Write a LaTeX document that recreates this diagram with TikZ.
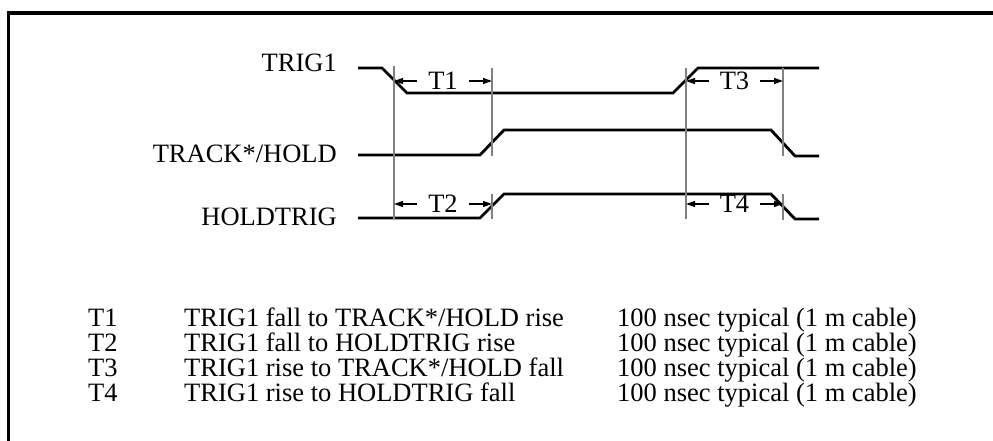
\documentclass[tikz,border=0pt]{standalone}
\usepackage{fontspec}
\setmainfont{Liberation Serif}
\usetikzlibrary{arrows.meta,positioning,calc}

\tikzset{
  wave/.style={line width=2.8pt, line join=miter},
  guide/.style={line width=1.4pt, draw=black!50},
  dim/.style={line width=1.2pt, -{Triangle[length=9pt,width=6pt]}},
  lbl/.style={inner sep=0pt, font=\fontsize{26.5}{30}\selectfont},
}

\begin{document}
\begin{tikzpicture}[x=1pt,y=-1pt]
    \useasboundingbox (0,0) rectangle (993,441);
    % frame
    \draw[line width=3.3pt] (8.5,460) -- (8.5,13) -- (1010,13);

    % signal names
    \node[lbl, anchor=base east] (trig) at (337,72) {TRIG1};
    \node[lbl, anchor=base east] (track) at (337,163) {TRACK*/HOLD};
    \node[lbl, anchor=base east] (hold) at (337,225) {HOLDTRIG};

    % waveforms
    \draw[wave] (358,68) -- (382,68) -- (407,93) -- (673,93) -- (698,68) -- (819,68);
    \draw[wave] (358,155) -- (480,155) -- (504,130) -- (771,130) -- (795,156) -- (819,156);
    \draw[wave] (358,218) -- (480,218) -- (504,194) -- (771,194) -- (795,219) -- (819,219);

    % guide lines
    \coordinate (ga) at (394,66);
    \coordinate (gb) at (492,68);
    \coordinate (gc) at (686,68);
    \coordinate (gd) at (783,68);
    \draw[guide] (ga) -- (394,219);
    \draw[guide] (gb) -- (492,156);
    \draw[guide] (492,194) -- (492,219);
    \draw[guide] (gc) -- (686,219);
    \draw[guide] (gd) -- (783,156);
    \draw[guide] (783,194) -- (783,220);

    % timing marks
    \node[lbl, inner xsep=11pt] (t1) at (443,81) {T1};
    \node[lbl, inner xsep=11pt] (t2) at (443,204) {T2};
    \node[lbl, inner xsep=11pt] (t3) at (734.5,81) {T3};
    \node[lbl, inner xsep=11pt] (t4) at (734.5,204) {T4};
    \draw[dim] (t1.west) -- (t1.west -| ga);
    \draw[dim] (t1.east) -- (t1.east -| gb);
    \draw[dim] (t2.west) -- (t2.west -| ga);
    \draw[dim] (t2.east) -- (t2.east -| gb);
    \draw[dim] (t3.west) -- (t3.west -| gc);
    \draw[dim] (t3.east) -- (t3.east -| gd);
    \draw[dim] (t4.west) -- (t4.west -| gc);
    \draw[dim] (t4.east) -- (t4.east -| gd);

    % table
    \node[lbl, anchor=base west] (r1a) at (88,326) {T1};
    \node[lbl, anchor=base west] (r1b) at (184,326) {TRIG1 fall to TRACK*/HOLD rise};
    \node[lbl, anchor=base west] (r1c) at (617,326) {100 nsec typical (1 m cable)};
    \node[lbl, anchor=base west] (r2a) at (88,351) {T2};
    \node[lbl, anchor=base west] (r2b) at (184,351) {TRIG1 fall to HOLDTRIG rise};
    \node[lbl, anchor=base west] (r2c) at (617,351) {100 nsec typical (1 m cable)};
    \node[lbl, anchor=base west] (r3a) at (88,376) {T3};
    \node[lbl, anchor=base west] (r3b) at (184,376) {TRIG1 rise to TRACK*/HOLD fall};
    \node[lbl, anchor=base west] (r3c) at (617,376) {100 nsec typical (1 m cable)};
    \node[lbl, anchor=base west] (r4a) at (88,401) {T4};
    \node[lbl, anchor=base west] (r4b) at (184,401) {TRIG1 rise to HOLDTRIG fall};
    \node[lbl, anchor=base west] (r4c) at (617,401) {100 nsec typical (1 m cable)};
\end{tikzpicture}
\end{document}
